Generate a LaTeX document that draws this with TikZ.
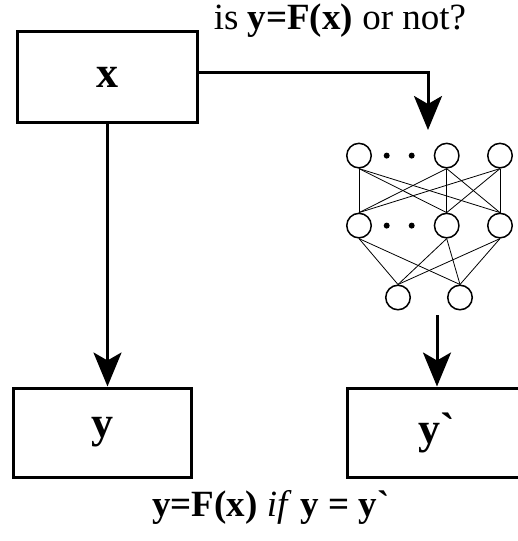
\documentclass[tikz,border=0pt]{standalone}
\usepackage{fontspec}
\setmainfont{Liberation Serif}
\usetikzlibrary{arrows.meta}

\begin{document}
\begin{tikzpicture}[x=1pt,y=-1pt,
  box/.style={draw,line width=3pt,minimum width=180pt,minimum height=91pt,
    inner sep=0pt,font=\fontsize{44}{52}\selectfont\bfseries},
  neuron/.style={draw,circle,line width=1.5pt,minimum size=24.5pt,inner sep=0pt},
  flow/.style={line width=3pt,-{Stealth[length=34pt,width=28pt,inset=8pt]}},
  link/.style={line width=0.8pt},
  caption/.style={font=\fontsize{37}{44}\selectfont}]
  \useasboundingbox (0,0) rectangle (518,541);
  % input and output boxes
  \node[box] (xbox) at (107.5,77) {x};
  \node[box,minimum width=178pt,minimum height=89pt] (ybox) at (102.5,432.5) {y};
  \node[box,minimum width=178pt,minimum height=89pt] (yhat) at (436.5,432.5) {y\textasciigrave};
  % network: two full layers and an output layer
  \foreach \n/\x in {1/359,2/446.7,3/500} {
    \node[neuron] (t\n) at (\x,155.6) {};
    \node[neuron] (m\n) at (\x,225.6) {};
  }
  \node[neuron] (b1) at (398,297.5) {};
  \node[neuron] (b2) at (460,297.5) {};
  \foreach \x in {386.7,411.7}
    \foreach \y in {155.6,225.6}
      \fill (\x,\y) circle (3pt);
  \foreach \i in {1,2,3} {
    \foreach \j in {1,2,3}
      \draw[link] (t\i.south) -- (m\j.north);
    \foreach \j in {1,2}
      \draw[link] (m\i.south) -- (b\j.north);
  }
  % arrows
  \coordinate (nnin) at (428,130);
  \coordinate (nnout) at (437,315);
  \draw[flow] (xbox.south) -- (xbox.south |- ybox.north);
  \draw[flow] ([yshift=5pt]xbox.east) -| (nnin);
  \draw[flow] (nnout) -- (nnout |- yhat.north);
  % texts
  \node[caption] (question) at (340,21) {is \textbf{y=F(x)} or not?};
  \node[caption] (rule) at (271,507) {\textbf{y=F(x)} \textit{if} \textbf{y = y\textasciigrave}};
\end{tikzpicture}
\end{document}
